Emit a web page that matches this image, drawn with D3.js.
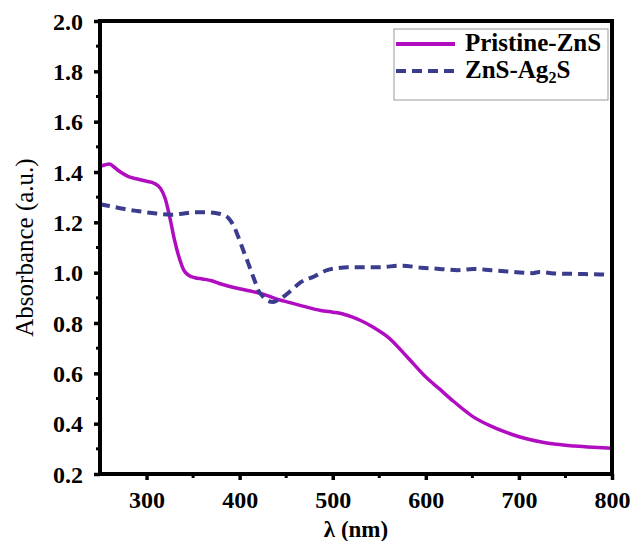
<!DOCTYPE html>
<html>
<head>
<meta charset="utf-8">
<script src="https://cdn.jsdelivr.net/npm/d3@7"></script>
<style>
  html, body { margin: 0; padding: 0; background: #fff; }
</style>
</head>
<body>
<svg width="632" height="541"></svg>
<script>
'use strict';
// wavelength (nm) / absorbance
var pristineWl = [250, 255, 260, 265, 270, 280, 290, 300, 308, 315, 320, 325, 330, 335, 340, 345, 352, 360, 370, 380,
  395, 410, 425, 440, 455, 470, 487, 500, 509, 520, 530, 545, 559, 580, 600, 614, 630, 651, 670, 688, 705, 724, 740, 760, 780, 800];
var pristineAbs = [1.422, 1.428, 1.432, 1.42, 1.405, 1.383, 1.372, 1.363, 1.355, 1.335, 1.295, 1.22, 1.13, 1.06, 1.01, 0.99, 0.98, 0.975, 0.968, 0.955,
  0.94, 0.928, 0.915, 0.895, 0.88, 0.865, 0.85, 0.843, 0.838, 0.825, 0.81, 0.78, 0.745, 0.665, 0.585, 0.54, 0.488, 0.427, 0.39, 0.363, 0.343, 0.327, 0.318, 0.311, 0.306, 0.302];
var ag2sWl = [250, 260, 273, 290, 306, 327, 340, 352, 365, 374, 382, 388, 393, 397, 401, 405, 409, 413, 417, 420, 425, 430, 436, 442,
  449, 457, 465, 480, 494, 505, 516, 535, 551, 573, 595, 615, 634, 651, 670, 688, 705, 715, 722, 735, 760, 788, 800];
var ag2sAbs = [1.272, 1.265, 1.255, 1.245, 1.237, 1.23, 1.235, 1.24, 1.24, 1.237, 1.23, 1.217, 1.19, 1.157, 1.118, 1.078, 1.04, 0.999, 0.96, 0.93, 0.905, 0.888, 0.883, 0.893,
  0.91, 0.935, 0.96, 0.985, 1.01, 1.018, 1.022, 1.022, 1.022, 1.028, 1.02, 1.015, 1.01, 1.015, 1.01, 1.005, 1.0, 0.998, 1.003, 0.998, 0.995, 0.993, 0.99];
var xTicks = [300, 400, 500, 600, 700, 800];
var xMinor = [350, 450, 550, 650, 750];
var yTicks = [0.2, 0.4, 0.6, 0.8, 1.0, 1.2, 1.4, 1.6, 1.8, 2.0];
var yMinor = [0.3, 0.5, 0.7, 0.9, 1.1, 1.3, 1.5, 1.7, 1.9];
var seriesNames = ['Pristine-ZnS', 'ZnS-Ag2S'];
var seriesColors = ['#b00cc0', '#3c3c8e'];

(() => {
  var FONT = '"Liberation Serif", "Times New Roman", serif';
  var svg = d3.select('svg');
  var m = {top: 21, right: 20, bottom: 67, left: 100};
  var w = 632 - m.left - m.right;
  var h = 541 - m.top - m.bottom;

  var x = d3.scaleLinear().domain([250, 800]).range([0, w]);
  var y = d3.scaleLinear().domain([0.2, 2.0]).range([h, 0]);

  var g = svg.append('g').attr('transform', `translate(${m.left}, ${m.top})`);

  // lines
  var line = d3.line()
    .x(d => x(d[0]))
    .y(d => y(d[1]))
    .curve(d3.curveMonotoneX);

  var series = [
    d3.zip(pristineWl, pristineAbs),
    d3.zip(ag2sWl, ag2sAbs)
  ];

  g.append('path')
    .datum(series[0])
    .attr('fill', 'none')
    .attr('stroke', seriesColors[0])
    .attr('stroke-width', 3.5)
    .attr('d', line);

  g.append('path')
    .datum(series[1])
    .attr('fill', 'none')
    .attr('stroke', seriesColors[1])
    .attr('stroke-width', 4)
    .attr('stroke-dasharray', '10,6')
    .attr('d', line);

  // axes
  var fmt = d3.format('.1f');
  var xAxis = g.append('g')
    .attr('transform', `translate(0, ${h})`)
    .call(d3.axisBottom(x).tickValues(xTicks).tickSize(6).tickPadding(8));
  var yAxis = g.append('g')
    .call(d3.axisLeft(y).tickValues(yTicks).tickFormat(fmt).tickSize(6).tickPadding(11));

  [xAxis, yAxis].forEach(a => {
    a.attr('font-family', null).attr('font-size', null);
    a.select('.domain').remove();
    a.selectAll('.tick line').attr('stroke', '#000').attr('stroke-width', 3.5);
    a.selectAll('.tick text')
      .attr('fill', '#000')
      .style('font-family', FONT)
      .style('font-size', '24px')
      .style('font-weight', 'bold');
  });
  xAxis.selectAll('.tick text').attr('dy', '0.85em');
  yAxis.selectAll('.tick text').attr('dy', '0.34em');

  g.append('g').selectAll('line').data(xMinor).enter().append('line')
    .attr('x1', d => x(d)).attr('x2', d => x(d))
    .attr('y1', h).attr('y2', h + 4)
    .attr('stroke', '#000').attr('stroke-width', 3);
  g.append('g').selectAll('line').data(yMinor).enter().append('line')
    .attr('y1', d => y(d)).attr('y2', d => y(d))
    .attr('x1', 0).attr('x2', -4)
    .attr('stroke', '#000').attr('stroke-width', 3);

  // frame
  g.append('rect')
    .attr('width', w)
    .attr('height', h)
    .attr('fill', 'none')
    .attr('stroke', '#000')
    .attr('stroke-width', 4);

  // axis titles
  svg.append('text')
    .attr('x', m.left + w / 2)
    .attr('y', 537)
    .attr('text-anchor', 'middle')
    .style('font-family', FONT)
    .style('font-size', '23px')
    .style('font-weight', 'bold')
    .text('λ (nm)');

  svg.append('text')
    .attr('transform', `translate(33, ${m.top + h / 2}) rotate(-90)`)
    .attr('text-anchor', 'middle')
    .style('font-family', FONT)
    .style('font-size', '25px')
    .text('Absorbance (a.u.)');

  // legend
  var lg = svg.append('g').attr('transform', 'translate(394, 29)');
  lg.append('rect')
    .attr('width', 214)
    .attr('height', 71)
    .attr('fill', '#fff')
    .attr('stroke', '#9a9a9a')
    .attr('stroke-width', 1);

  lg.append('line')
    .attr('x1', 2).attr('x2', 61).attr('y1', 15).attr('y2', 15)
    .attr('stroke', seriesColors[0]).attr('stroke-width', 4);
  lg.append('line')
    .attr('x1', 2).attr('x2', 61).attr('y1', 42).attr('y2', 42)
    .attr('stroke', seriesColors[1]).attr('stroke-width', 4)
    .attr('stroke-dasharray', '10,6');

  lg.append('text')
    .attr('x', 71).attr('y', 22)
    .style('font-family', FONT)
    .style('font-size', '25px')
    .style('font-weight', 'bold')
    .text(seriesNames[0]);

  var t2 = lg.append('text')
    .attr('x', 71).attr('y', 49)
    .style('font-family', FONT)
    .style('font-size', '25px')
    .style('font-weight', 'bold');
  t2.append('tspan').text('ZnS-Ag');
  t2.append('tspan').attr('dy', 5).style('font-size', '16px').text('2');
  t2.append('tspan').attr('dy', -5).text('S');
})();
</script>
</body>
</html>
